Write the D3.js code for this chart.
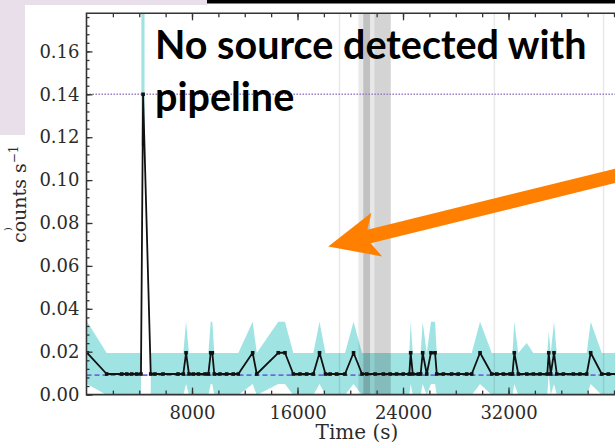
<!DOCTYPE html>
<html><head><meta charset="utf-8">
<script src="https://cdn.jsdelivr.net/npm/d3@7"></script>
<style>
html,body{margin:0;padding:0;background:#fff;overflow:hidden}
svg{display:block}
</style></head><body>
<svg id="c" width="615" height="446"></svg>
<script>
// ---------------- data ----------------
const times = [50,1530,2670,3050,3430,3810,4130,4290,4870,5190,5800,6940,7340,7550,7770,8100,8480,8990,9240,9420,9540,9690,10120,10630,11130,11510,12600,12910,14540,15050,15680,16190,16700,17200,17670,18120,18470,18970,19600,20250,20890,21250,21880,22510,23020,23520,24020,24480,24580,24740,25160,25340,25490,25800,26120,26430,26560,27060,27690,28190,28830,29210,29840,30730,31110,31610,32110,32300,32440,32740,33380,33880,34390,34940,35050,35200,35450,35660,36160,36910,37420,37930,38230,39070,39570,40460,41590];
const rates = [0.0195,0.0096,0.0096,0.0096,0.0096,0.0096,0.0096,0.140,0.0096,0.0096,0.0096,0.0096,0.0096,0.0195,0.0096,0.0096,0.0096,0.0096,0.0096,0.0195,0.0195,0.0096,0.0096,0.0096,0.0096,0.0096,0.0195,0.0096,0.0195,0.0195,0.0096,0.0096,0.0096,0.0096,0.0195,0.0096,0.0096,0.0096,0.0096,0.0195,0.0096,0.0096,0.0096,0.0096,0.0096,0.0096,0.0096,0.0096,0.0195,0.0096,0.0096,0.0096,0.0195,0.0096,0.0195,0.0195,0.0096,0.0096,0.0096,0.0096,0.0096,0.0096,0.0195,0.0096,0.0096,0.0096,0.0096,0.0096,0.0195,0.0096,0.0096,0.0096,0.0096,0.0096,0.0195,0.0096,0.0195,0.0096,0.0096,0.0096,0.0096,0.0096,0.0195,0.0096,0.0096,0.0096,0.0096];
const errors = [0.0145,0.0098,0.0098,0.0098,0.0098,0.0098,0.0098,0.060,0.0098,0.0098,0.0098,0.0098,0.0098,0.0145,0.0098,0.0098,0.0098,0.0098,0.0098,0.0145,0.0145,0.0098,0.0098,0.0098,0.0098,0.0098,0.0145,0.0098,0.0145,0.0145,0.0098,0.0098,0.0098,0.0098,0.0145,0.0098,0.0098,0.0098,0.0098,0.0145,0.0098,0.0098,0.0098,0.0098,0.0098,0.0098,0.0098,0.0098,0.0145,0.0098,0.0098,0.0098,0.0145,0.0098,0.0145,0.0145,0.0098,0.0098,0.0098,0.0098,0.0098,0.0098,0.0145,0.0098,0.0098,0.0098,0.0098,0.0098,0.0145,0.0098,0.0145,0.0098,0.0098,0.0098,0.0098,0.0098,0.0145,0.0098,0.0098,0.0098,0.0098,0.0098,0.0145,0.0098,0.0098,0.0098,0.0098];
const spikeIndex = 7;           // flare bin, error band drawn as its own strip
const meanRate = 0.0091;        // dashed line
const thresholdRate = 0.14;     // dotted line
const gtiLight = [[19130,19240],[20620,20720],[20720,21830],[30870,30980],[39150,39260]];
const gtiDark = [[20990,21500],[21830,23070]];
const yTickValues = [0,0.02,0.04,0.06,0.08,0.10,0.12,0.14,0.16];
const yTickLabels = ["0.00","0.02","0.04","0.06","0.08","0.10","0.12","0.14","0.16"];
const xTickValues = [8000,16000,24000,32000];
const xTickLabels = ["8000","16000","24000","32000"];
const xLabel = "Time (s)";
const yLabel = "counts s";
const annotationLines = ["No source detected with","pipeline"];

// ---------------- layout ----------------
const svg = d3.select("#c");
const L = 86.5, B = 394.6, T = 13.3, R = 640;
const x = d3.scaleLinear().domain([0,42000]).range([L, L + 42000*0.013188]);
const y = d3.scaleLinear().domain([0,0.16]).range([B, 51.4]);
const pts = times.map((t,i)=>({t, r:rates[i], e:errors[i], i}));

// slide background fragments
svg.append("rect").attr("x",0).attr("y",0).attr("width",207).attr("height",5).attr("fill","#e8dfea");
svg.append("rect").attr("x",0).attr("y",0).attr("width",25).attr("height",135).attr("fill","#e8dfea");
svg.append("rect").attr("x",207).attr("y",0).attr("width",408).attr("height",3.5).attr("fill","#000");

const defs = svg.append("defs");
defs.append("clipPath").attr("id","clip").append("rect")
  .attr("x",L).attr("y",T).attr("width",R-L).attr("height",B-T);
const plot = svg.append("g").attr("clip-path","url(#clip)");

// error band
const area = d3.area()
  .defined(d=>d.i!==spikeIndex)
  .x(d=>x(d.t)).y0(d=>y(d.r-d.e)).y1(d=>y(d.r+d.e));
plot.append("path").datum(pts).attr("d",area).attr("fill","#9fe3e3");
const sp = pts[spikeIndex];
plot.append("rect").attr("x",x(sp.t-130)).attr("width",x(sp.t+110)-x(sp.t-130))
  .attr("y",y(sp.r+sp.e)).attr("height",y(sp.r-sp.e*0.4)-y(sp.r+sp.e)).attr("fill","#9fe3e3");

// gti / bad time intervals
plot.selectAll("rect.gl").data(gtiLight).join("rect").attr("class","gl")
  .attr("x",d=>x(d[0])).attr("width",d=>x(d[1])-x(d[0]))
  .attr("y",T).attr("height",B-T).attr("fill","rgba(0,0,0,0.09)");
plot.selectAll("rect.gd").data(gtiDark).join("rect").attr("class","gd")
  .attr("x",d=>x(d[0])).attr("width",d=>x(d[1])-x(d[0]))
  .attr("y",T).attr("height",B-T).attr("fill","rgba(0,0,0,0.17)");

// reference lines
plot.append("line").attr("x1",L).attr("x2",R).attr("y1",y(thresholdRate)).attr("y2",y(thresholdRate))
  .attr("stroke","#9076c0").attr("stroke-width",1.5).attr("stroke-dasharray","1.4,1.6");
plot.append("line").attr("x1",L).attr("x2",R).attr("y1",y(meanRate)).attr("y2",y(meanRate))
  .attr("stroke","#6b6be0").attr("stroke-width",1.6).attr("stroke-dasharray","5,3");

// light curve
const line = d3.line().x(d=>x(d.t)).y(d=>y(d.r));
plot.append("path").datum(pts).attr("d",line).attr("fill","none")
  .attr("stroke","#111").attr("stroke-width",1.8).attr("stroke-linejoin","round");
plot.selectAll("rect.m").data(pts).join("rect").attr("class","m")
  .attr("x",d=>x(d.t)-1.8).attr("y",d=>y(d.r)-1.8).attr("width",3.6).attr("height",3.6).attr("fill","#111");

// axes
const axFont = "DejaVu Serif, serif";
const yMajor = d3.axisLeft(y).tickValues(yTickValues).tickFormat((d,i)=>yTickLabels[i])
  .tickSizeInner(-6).tickSizeOuter(0).tickPadding(7);
const gy = svg.append("g").attr("transform",`translate(${L},0)`).call(yMajor);
const yMinor = d3.axisLeft(y).tickValues(d3.range(0,0.177,0.004)).tickFormat("").tickSizeInner(-3).tickSizeOuter(0);
const gy2 = svg.append("g").attr("transform",`translate(${L},0)`).call(yMinor);

const xMajorB = d3.axisBottom(x).tickValues(xTickValues).tickFormat((d,i)=>xTickLabels[i])
  .tickSizeInner(-7).tickSizeOuter(0).tickPadding(12);
const gx = svg.append("g").attr("transform",`translate(0,${B})`).call(xMajorB);
const xMinorTicks = d3.range(2000,42000,2000);
const gx2 = svg.append("g").attr("transform",`translate(0,${B})`)
  .call(d3.axisBottom(x).tickValues(xMinorTicks).tickFormat("").tickSizeInner(-4).tickSizeOuter(0));
const gxt = svg.append("g").attr("transform",`translate(0,${T})`)
  .call(d3.axisTop(x).tickValues(xTickValues).tickFormat("").tickSizeInner(-7).tickSizeOuter(0));
const gxt2 = svg.append("g").attr("transform",`translate(0,${T})`)
  .call(d3.axisTop(x).tickValues(xMinorTicks).tickFormat("").tickSizeInner(-4).tickSizeOuter(0));
[gy,gy2,gx,gx2,gxt,gxt2].forEach(g=>{
  g.select(".domain").remove();
  g.selectAll(".tick line").attr("stroke","#333").attr("stroke-width",1.3);
  g.selectAll("text").attr("font-family",axFont).attr("font-size",18).attr("fill","#2b2b2b");
});

// frame
svg.append("path").attr("d",`M${R},${T}H${L}V${B}H${R}`).attr("fill","none")
  .attr("stroke","#333").attr("stroke-width",1.6);

// axis labels
svg.append("text").attr("x",357).attr("y",439).attr("text-anchor","middle")
  .attr("font-family",axFont).attr("font-size",20).attr("fill","#2b2b2b").text(xLabel);
const yl = svg.append("text").attr("transform","translate(26,243) rotate(-90)")
  .attr("font-family",axFont).attr("font-size",19).attr("fill","#2b2b2b");
yl.append("tspan").text(yLabel);
yl.append("tspan").attr("dy",-8).attr("font-size",12).text("−1");
svg.append("text").attr("transform","translate(11,231) rotate(-90)")
  .attr("font-family",axFont).attr("font-size",10).attr("fill","#2b2b2b").text(")");

// annotation
const ann = svg.append("text").attr("font-family","Lato, sans-serif").attr("font-weight",700)
  .attr("font-size",39.5).attr("fill","#000");
ann.selectAll("tspan").data(annotationLines).join("tspan")
  .attr("x",155).attr("y",(d,i)=>[59,111][i]).text(d=>d);

// arrow (annotation)
const tip = [x(18330), y(0.069)];
const ang = Math.atan2(169.7-tip[1], 640-tip[0]);
const ux = Math.cos(ang), uy = Math.sin(ang), nx = -uy, ny = ux;
const headLen = 46, headHalf = 22.5, shaftHalf = 7, tailLen = 340;
const P = (a,b)=>[tip[0]+ux*a+nx*b, tip[1]+uy*a+ny*b];
const arrowPts = [P(0,0),P(headLen+4,headHalf),P(headLen-4,shaftHalf),P(tailLen,shaftHalf),
  P(tailLen,-shaftHalf),P(headLen-4,-shaftHalf),P(headLen+4,-headHalf)];
svg.append("polygon").attr("points",arrowPts.map(p=>p.join(",")).join(" ")).attr("fill","#ff8000");
</script>
</body></html>
